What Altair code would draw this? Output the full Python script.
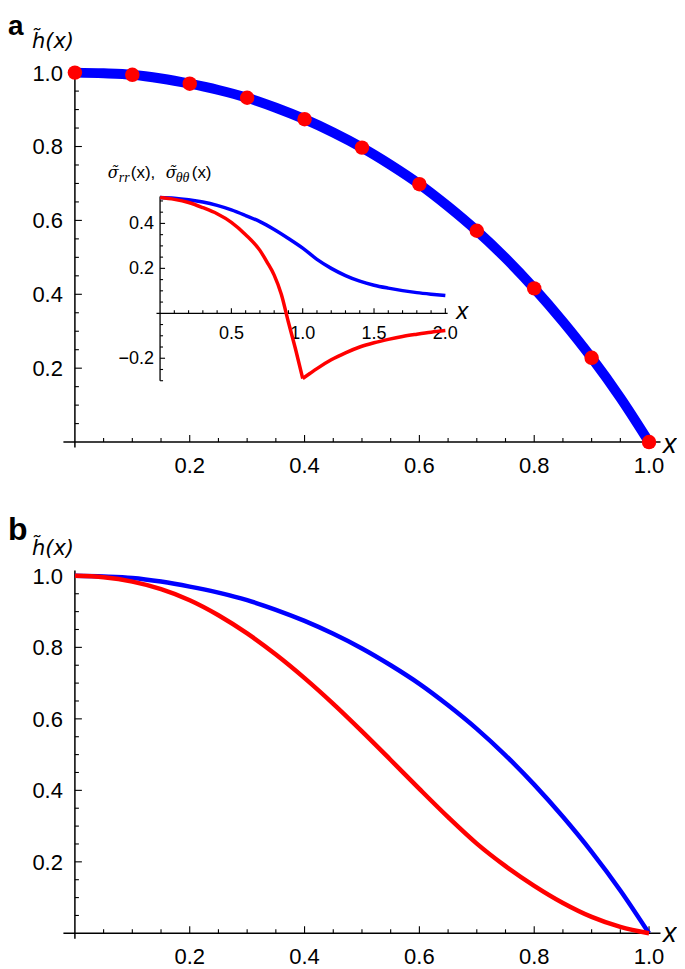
import altair as alt
import pandas as pd

# ---------------- data ----------------
x_curve = [0.0, 0.05, 0.1, 0.15, 0.2, 0.25, 0.3, 0.35, 0.4, 0.45, 0.5,
           0.55, 0.6, 0.65, 0.7, 0.75, 0.8, 0.85, 0.9, 0.95, 1.0]
h_blue = [1.0, 0.998, 0.994, 0.984, 0.970, 0.953, 0.932, 0.905, 0.874, 0.838, 0.797,
          0.750, 0.698, 0.638, 0.572, 0.498, 0.416, 0.326, 0.228, 0.120, 0.0]
h_red = [1.0, 0.996, 0.984, 0.963, 0.932, 0.890, 0.839, 0.780, 0.714, 0.642, 0.565,
         0.485, 0.404, 0.325, 0.251, 0.188, 0.133, 0.085, 0.046, 0.018, 0.0]

dot_x = [0.0, 0.1, 0.2, 0.3, 0.4, 0.5, 0.6, 0.7, 0.8, 0.9, 1.0]
dot_h = [1.0, 0.994, 0.970, 0.932, 0.874, 0.797, 0.698, 0.572, 0.416, 0.228, 0.0]

inset_x_blue = [0.0, 0.1, 0.2, 0.3, 0.4, 0.5, 0.6, 0.7, 0.8, 0.9, 1.0,
                1.1, 1.2, 1.3, 1.4, 1.5, 1.6, 1.7, 1.8, 1.9, 2.0]
sigma_blue = [0.515, 0.512, 0.505, 0.495, 0.480, 0.460, 0.435, 0.408, 0.373, 0.333, 0.290,
              0.240, 0.200, 0.168, 0.143, 0.125, 0.112, 0.101, 0.092, 0.085, 0.079]
# red inset curve: branch before the cusp at x = 1 and branch after it
inset_x_red_in = [0.0, 0.1, 0.2, 0.3, 0.4, 0.5, 0.6, 0.7, 0.75, 0.8, 0.85, 0.9, 0.95, 1.0]
sigma_red_in = [0.515, 0.507, 0.493, 0.470, 0.443, 0.405, 0.350, 0.280, 0.228, 0.170, 0.085,
                -0.040, -0.160, -0.290]
inset_x_red_out = [1.0, 1.05, 1.1, 1.2, 1.3, 1.4, 1.5, 1.6, 1.7, 1.8, 1.9, 2.0]
sigma_red_out = [-0.290, -0.268, -0.246, -0.207, -0.176, -0.150, -0.131, -0.116, -0.103,
                 -0.093, -0.084, -0.077]

main_major = [0.2, 0.4, 0.6, 0.8, 1.0]
main_minor = [0.05, 0.1, 0.15, 0.25, 0.3, 0.35, 0.45, 0.5, 0.55,
              0.65, 0.7, 0.75, 0.85, 0.9, 0.95]
inset_x_major = [0.5, 1.0, 1.5, 2.0]
inset_x_minor = [0.1, 0.2, 0.3, 0.4, 0.6, 0.7, 0.8, 0.9, 1.1, 1.2, 1.3, 1.4,
                 1.6, 1.7, 1.8, 1.9]
inset_y_major = [-0.2, 0.2, 0.4]
inset_y_minor = [-0.3, -0.25, -0.15, -0.1, -0.05, 0.05, 0.1, 0.15, 0.25, 0.3,
                 0.35, 0.45, 0.5]

BLUE = "#0000FF"
RED = "#FF0000"
SANS = "Liberation Sans"
DSANS = "DejaVu Sans"
DSERIF = "DejaVu Serif"
SERIF = "Liberation Serif"
W = 575
HA = 370
HB = 358


def one(s):
    return pd.DataFrame({"s": [s]})


def label(s, **kw):
    return alt.Chart(one(s)).mark_text(color="black", **kw).encode(text="s:N")


def axes_and_ticks(xs, ys, xlo, xhi, ylo, yhi, major_x, minor_x, major_y, minor_y,
                   big, small, sw):
    k = pd.DataFrame({"k": [0]})
    xline = alt.Chart(k).mark_rule(color="black", strokeWidth=sw).encode(
        x=alt.XDatum(xlo, scale=xs, axis=None), x2=alt.X2Datum(xhi),
        y=alt.YDatum(0, scale=ys, axis=None))
    yline = alt.Chart(k).mark_rule(color="black", strokeWidth=sw).encode(
        y=alt.YDatum(ylo, scale=ys, axis=None), y2=alt.Y2Datum(yhi),
        x=alt.XDatum(0, scale=xs, axis=None))
    layers = [xline, yline]
    for vals, ln in ((major_x, big), (minor_x, small)):
        layers.append(alt.Chart(pd.DataFrame({"t": vals})).mark_rule(
            color="black", strokeWidth=1.1, y2Offset=-ln).encode(
            x=alt.X("t:Q", scale=xs, axis=None, title=None),
            y=alt.YDatum(0, scale=ys, axis=None), y2=alt.Y2Datum(0)))
    for vals, ln in ((major_y, big), (minor_y, small)):
        layers.append(alt.Chart(pd.DataFrame({"t": vals})).mark_rule(
            color="black", strokeWidth=1.1, x2Offset=ln).encode(
            y=alt.Y("t:Q", scale=ys, axis=None, title=None),
            x=alt.XDatum(0, scale=xs, axis=None), x2=alt.X2Datum(0)))
    return layers


def tick_labels(xs, ys, xvals, yvals, size, xdy, ydx):
    return [
        alt.Chart(pd.DataFrame({"t": xvals})).mark_text(
            fontSize=size, font=SANS, color="black", baseline="middle", align="center",
            dy=xdy).encode(
            x=alt.X("t:Q", scale=xs, axis=None, title=None),
            y=alt.YDatum(0, scale=ys, axis=None),
            text=alt.Text("t:Q", format=".1f")),
        alt.Chart(pd.DataFrame({"t": yvals})).mark_text(
            fontSize=size, font=SANS, color="black", baseline="middle", align="right",
            dx=ydx, dy=1).encode(
            y=alt.Y("t:Q", scale=ys, axis=None, title=None),
            x=alt.XDatum(0, scale=xs, axis=None),
            text=alt.Text("t:Q", format=".1f")),
    ]


def panel(height, curve_layers, letter, letter_y, letter_size, letter_base, title_y, xlab_y):
    xs = alt.Scale(domain=[0, 1], nice=False, zero=False)
    ys = alt.Scale(domain=[0, 1], nice=False, zero=False)
    layers = axes_and_ticks(xs, ys, -0.02, 1.02, -0.015, 1.015,
                            main_major, main_minor, main_major, main_minor, 7, 4, 1.5)
    layers += tick_labels(xs, ys, main_major, main_major, 22, 24, -12)
    layers += [f(xs, ys) for f in curve_layers]
    layers.append(label(letter, x=-67, y=letter_y, align="left", baseline=letter_base,
                        fontSize=letter_size, fontWeight="bold", font=SANS))
    layers.append(label("h\u0303(x)", x=-43, y=title_y, align="left", baseline="alphabetic",
                        fontSize=21, fontStyle="italic", font=DSANS))
    layers.append(label("x", x=589, y=xlab_y, align="left", baseline="middle",
                        fontSize=27, fontStyle="italic", font=SANS))
    return layers


# ---------------- panel a ----------------
def blue_thick(xs, ys):
    return alt.Chart(pd.DataFrame({"x": x_curve, "h": h_blue})).mark_line(
        color=BLUE, strokeWidth=10, interpolate="monotone").encode(
        x=alt.X("x:Q", scale=xs, axis=None, title=None),
        y=alt.Y("h:Q", scale=ys, axis=None, title=None))


def red_dots(xs, ys):
    return alt.Chart(pd.DataFrame({"x": dot_x, "h": dot_h})).mark_circle(
        color=RED, size=210, opacity=1).encode(
        x=alt.X("x:Q", scale=xs, axis=None, title=None),
        y=alt.Y("h:Q", scale=ys, axis=None, title=None))


# transparent spacer that fixes the top edge of the figure above panel a
spacer = alt.Chart(pd.DataFrame({"k": [0]})).mark_rule(
    opacity=0, strokeWidth=1, color="white").encode(
    x=alt.value(0), y=alt.value(-63.5), y2=alt.value(-62.5))

main_a = alt.layer(*panel(HA, [blue_thick, red_dots], "a", -38, 28, "alphabetic",
                          -24.7, HA + 3),
                   spacer)

# inset: own scales, placed by its domain within panel a's plot area
xi = alt.Scale(domain=[-0.597, 3.428], nice=False, zero=False)
yi = alt.Scale(domain=[-0.573, 1.071], nice=False, zero=False)

inset_layers = axes_and_ticks(xi, yi, -0.025, 2.016, -0.30, 0.52,
                              inset_x_major, inset_x_minor, inset_y_major, inset_y_minor,
                              5, 3, 1.3)
inset_layers += tick_labels(xi, yi, inset_x_major, inset_y_major, 18, 21, -6)


def inset_line(xv, sv, color):
    return alt.Chart(pd.DataFrame({"x": xv, "s": sv})).mark_line(
        color=color, strokeWidth=3.5, interpolate="monotone").encode(
        x=alt.X("x:Q", scale=xi, axis=None, title=None),
        y=alt.Y("s:Q", scale=yi, axis=None, title=None))


inset_layers.append(inset_line(inset_x_blue, sigma_blue, BLUE))
inset_layers.append(inset_line(inset_x_red_in, sigma_red_in, RED))
inset_layers.append(inset_line(inset_x_red_out, sigma_red_out, RED))
inset_layers.append(label("x", x=382, y=240, align="left", baseline="middle",
                          fontSize=24, fontStyle="italic", font=SANS))
# inset title:  sigma~_rr(x), sigma~_thetatheta(x)
inset_layers.append(label("\u03c3\u0303", x=33, y=106, align="left", baseline="alphabetic",
                          fontSize=16, fontStyle="italic", font=DSERIF))
inset_layers.append(label("rr", x=44, y=110, align="left", baseline="alphabetic",
                          fontSize=14, fontStyle="italic", font=SERIF))
inset_layers.append(label("(x),", x=56, y=106, align="left", baseline="alphabetic",
                          fontSize=17, font=SANS))
inset_layers.append(label("\u03c3\u0303", x=91, y=106, align="left", baseline="alphabetic",
                          fontSize=16, fontStyle="italic", font=DSERIF))
inset_layers.append(label("\u03b8\u03b8", x=101, y=110, align="left", baseline="alphabetic",
                          fontSize=14, fontStyle="italic", font=SERIF))
inset_layers.append(label("(x)", x=117, y=106, align="left", baseline="alphabetic",
                          fontSize=17, font=SANS))
inset = alt.layer(*inset_layers)

panel_a = alt.layer(main_a, inset).resolve_scale(x="independent", y="independent") \
    .properties(width=W, height=HA)


# ---------------- panel b ----------------
def blue_thin(xs, ys):
    return alt.Chart(pd.DataFrame({"x": x_curve, "h": h_blue})).mark_line(
        color=BLUE, strokeWidth=4.5, interpolate="monotone").encode(
        x=alt.X("x:Q", scale=xs, axis=None, title=None),
        y=alt.Y("h:Q", scale=ys, axis=None, title=None))


def red_thin(xs, ys):
    return alt.Chart(pd.DataFrame({"x": x_curve, "h": h_red})).mark_line(
        color=RED, strokeWidth=4.5, interpolate="monotone").encode(
        x=alt.X("x:Q", scale=xs, axis=None, title=None),
        y=alt.Y("h:Q", scale=ys, axis=None, title=None))


panel_b = alt.layer(*panel(HB, [blue_thin, red_thin], "b", -61, 32, "top", -21, HB + 1)) \
    .properties(width=W, height=HB)

chart = alt.vconcat(panel_a, panel_b, spacing=37).properties(
    padding=0, background="white").configure_view(stroke=None)

chart.save("out.html", embed_options={"renderer": "svg", "actions": False})
